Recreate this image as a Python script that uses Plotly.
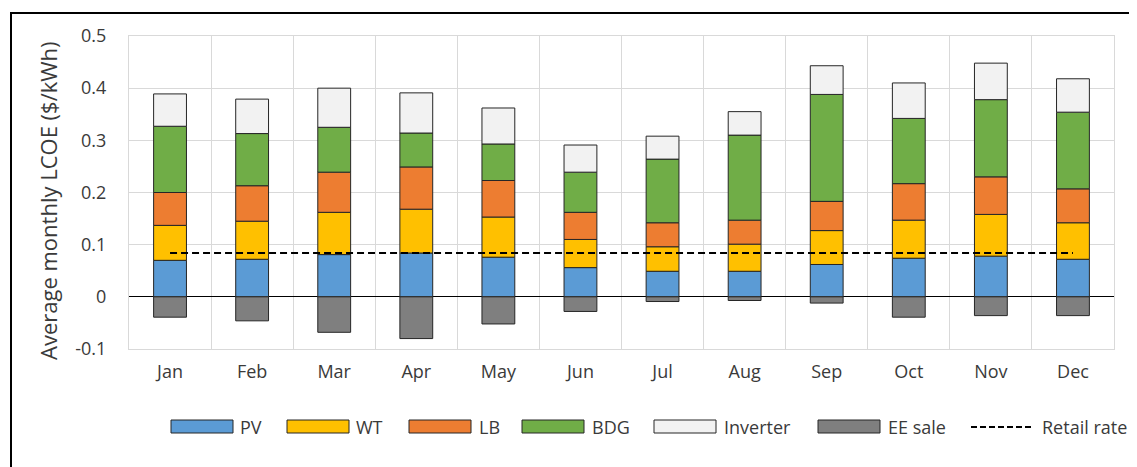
import plotly.graph_objects as go

months = ["Jan", "Feb", "Mar", "Apr", "May", "Jun", "Jul", "Aug", "Sep", "Oct", "Nov", "Dec"]
pv = [0.070, 0.072, 0.081, 0.084, 0.076, 0.056, 0.049, 0.049, 0.062, 0.074, 0.078, 0.072]
wt = [0.067, 0.073, 0.081, 0.084, 0.077, 0.054, 0.047, 0.052, 0.065, 0.073, 0.080, 0.070]
lb = [0.063, 0.068, 0.077, 0.081, 0.070, 0.052, 0.046, 0.046, 0.056, 0.070, 0.072, 0.065]
bdg = [0.127, 0.100, 0.086, 0.065, 0.070, 0.077, 0.122, 0.163, 0.205, 0.125, 0.148, 0.147]
inverter = [0.062, 0.066, 0.075, 0.077, 0.069, 0.052, 0.044, 0.045, 0.055, 0.068, 0.070, 0.064]
ee_sale = [-0.039, -0.046, -0.068, -0.080, -0.052, -0.028, -0.009, -0.007, -0.012, -0.039, -0.036, -0.036]
retail_rate = [0.084] * 12

series_names = ["PV", "WT", "LB", "BDG", "Inverter", "EE sale"]
series_values = [pv, wt, lb, bdg, inverter, ee_sale]
series_colors = ["#5B9BD5", "#FFC000", "#ED7D31", "#70AD47", "#F2F2F2", "#7F7F7F"]

y_tickvals = [-0.1, 0, 0.1, 0.2, 0.3, 0.4, 0.5]
y_ticktext = ["-0.1", "0", "0.1", "0.2", "0.3", "0.4", "0.5"]
y_title = "Average monthly LCOE ($/kWh)"

FONT = "Open Sans"
TXT = "#3A3A3A"

fig = go.Figure()
for name, vals, col in zip(series_names, series_values, series_colors):
    fig.add_trace(go.Bar(x=months, y=vals, name=name, marker_color=col,
                         marker_line=dict(color="#262626", width=1), width=0.4,
                         showlegend=False))
fig.add_trace(go.Scatter(x=months, y=retail_rate, mode="lines", name="Retail rate",
                         line=dict(color="black", width=2, dash="7px,4px"), showlegend=False))

# page body has an 8px margin; work in window pixels and convert
OFF = 8
W, H = 1137 - OFF, 467 - OFF
L, T = 129 - OFF, 36 - OFF
R = W - (1114 - OFF)
B = H - (349 - OFF)
pw, ph = W - L - R, H - T - B

def px(x):
    return (x - OFF - L) / pw

def py(y):
    return (H - B - (y - OFF)) / ph

shapes = []
annotations = []
# outer border
shapes.append(dict(type="rect", xref="paper", yref="paper", x0=px(11), x1=px(1160), y0=py(490), y1=py(13),
                   line=dict(color="black", width=2), fillcolor="rgba(0,0,0,0)"))
# y-axis title
annotations.append(dict(xref="paper", yref="paper", x=px(48), y=py(201), text=y_title, textangle=-90,
                        showarrow=False, xanchor="center", yanchor="middle",
                        font=dict(family=FONT, size=22, color=TXT)))
# custom legend
swatch_x = [171, 287, 409, 522, 654, 818]
text_x = [238, 354, 477, 590, 722, 886]
for sx, tx, name, col in zip(swatch_x, text_x, series_names, series_colors):
    shapes.append(dict(type="rect", xref="paper", yref="paper", x0=px(sx), x1=px(sx + 62),
                       y0=py(433), y1=py(420), fillcolor=col, line=dict(color="#262626", width=1)))
    annotations.append(dict(xref="paper", yref="paper", x=px(tx), y=py(427), text=name, showarrow=False,
                            xanchor="left", yanchor="middle", font=dict(family=FONT, size=18, color=TXT)))
shapes.append(dict(type="line", xref="paper", yref="paper", x0=px(971), x1=px(1034), y0=py(427), y1=py(427),
                   line=dict(color="black", width=1.8, dash="6px,3px")))
annotations.append(dict(xref="paper", yref="paper", x=px(1040), y=py(427), text="Retail rate", showarrow=False,
                        xanchor="left", yanchor="middle", font=dict(family=FONT, size=18, color=TXT)))

fig.update_layout(
    width=W, height=H, barmode="relative",
    margin=dict(l=L, r=R, t=T, b=B),
    paper_bgcolor="white", plot_bgcolor="white",
    font=dict(family=FONT, size=18, color=TXT),
    shapes=shapes, annotations=annotations,
    showlegend=False,
)
fig.update_xaxes(tickson="boundaries", showgrid=True, gridcolor="#D9D9D9", gridwidth=1,
                 showline=True, linecolor="#D9D9D9", mirror=True, ticks="",
                 ticklabelstandoff=6, tickfont=dict(size=18, color=TXT))
fig.update_yaxes(range=[-0.1, 0.5], tickvals=y_tickvals, ticktext=y_ticktext,
                 showgrid=True, gridcolor="#D9D9D9", gridwidth=1,
                 showline=True, linecolor="#D9D9D9", mirror=True,
                 zeroline=True, zerolinecolor="#000000", zerolinewidth=1,
                 ticklabelstandoff=18, tickfont=dict(size=18, color=TXT))

fig.write_html("out.html")
